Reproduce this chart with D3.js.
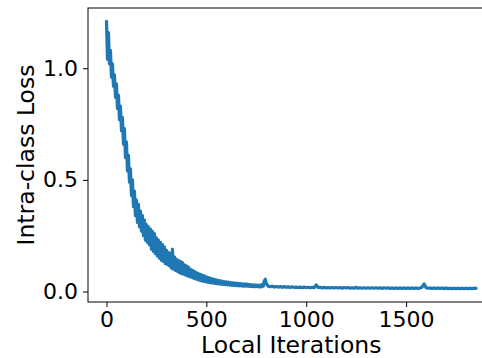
<!DOCTYPE html>
<html>
<head>
<meta charset="utf-8">
<script src="https://cdn.jsdelivr.net/npm/d3@7"></script>
<style>
    html, body { margin: 0; padding: 0; background: #fff; }
    svg { display: block; font-family: 'DejaVu Sans', sans-serif; }
</style>
</head>
<body>
<div id="chart"></div>
<script>
// Loss, one value every 5 iterations from 0 to 800
var earlyStep = 5;
var earlyLoss = [
    1.21, 1.04, 1.16, 1.02, 1.08, 0.96, 1.02, 0.92, 0.97, 0.87,
    0.93, 0.82, 0.88, 0.77, 0.83, 0.72, 0.78, 0.66, 0.73, 0.60,
    0.67, 0.54, 0.61, 0.49, 0.55, 0.43, 0.50, 0.38, 0.45, 0.34,
    0.41, 0.31, 0.39, 0.29, 0.36, 0.27, 0.34, 0.25, 0.32, 0.23,
    0.30, 0.22, 0.29, 0.21, 0.28, 0.19, 0.27, 0.18, 0.26, 0.17,
    0.24, 0.16, 0.23, 0.15, 0.22, 0.14, 0.21, 0.135, 0.20, 0.125,
    0.185, 0.12, 0.175, 0.115, 0.17, 0.105, 0.19, 0.10, 0.155, 0.095,
    0.145, 0.09, 0.14, 0.085, 0.135, 0.08, 0.13, 0.078, 0.12, 0.074,
    0.115, 0.07, 0.11, 0.067, 0.10, 0.064, 0.095, 0.06, 0.09, 0.057,
    0.085, 0.054, 0.08, 0.051, 0.077, 0.048, 0.073, 0.046, 0.07, 0.044,
    0.066, 0.042, 0.063, 0.041, 0.06, 0.039, 0.057, 0.038, 0.055, 0.036,
    0.052, 0.035, 0.05, 0.034, 0.048, 0.033, 0.046, 0.032, 0.044, 0.031,
    0.043, 0.030, 0.042, 0.029, 0.041, 0.028, 0.039, 0.028, 0.038, 0.027,
    0.037, 0.027, 0.036, 0.026, 0.035, 0.025, 0.034, 0.025, 0.033, 0.024,
    0.034, 0.024, 0.032, 0.023, 0.031, 0.023, 0.030, 0.022, 0.030, 0.022,
    0.029, 0.022, 0.029, 0.021, 0.028, 0.021, 0.032, 0.024, 0.047, 0.055,
    0.036
];

// After that, one value every 10 iterations from 810 to 1850
var lateStart = 810,
    lateStep = 10;
var lateLoss = [
    0.024, 0.021, 0.024, 0.020, 0.023, 0.020, 0.022, 0.019, 0.022, 0.019,
    0.021, 0.018, 0.021, 0.018, 0.020, 0.018, 0.020, 0.017, 0.020, 0.017,
    0.019, 0.017, 0.019, 0.017, 0.030, 0.018, 0.019, 0.016, 0.019, 0.016,
    0.018, 0.016, 0.018, 0.016, 0.018, 0.016, 0.018, 0.015, 0.018, 0.016,
    0.018, 0.015, 0.017, 0.015, 0.019, 0.015, 0.017, 0.015, 0.017, 0.015,
    0.017, 0.015, 0.017, 0.015, 0.017, 0.015, 0.017, 0.014, 0.017, 0.015,
    0.017, 0.014, 0.016, 0.014, 0.016, 0.014, 0.016, 0.014, 0.016, 0.014,
    0.016, 0.014, 0.016, 0.014, 0.016, 0.014, 0.016, 0.020, 0.034, 0.017,
    0.015, 0.016, 0.014, 0.016, 0.014, 0.016, 0.014, 0.016, 0.013, 0.016,
    0.013, 0.015, 0.013, 0.015, 0.013, 0.015, 0.013, 0.015, 0.013, 0.015,
    0.013, 0.015, 0.013, 0.015, 0.014
];

var xTicks = [0, 500, 1000, 1500],
    yTicks = [0.0, 0.5, 1.0];

var xLabel = 'Local Iterations',
    yLabel = 'Intra-class Loss';

(function(d3) {
    'use strict';

    var width = 482,
        height = 358;

    // Axes box; the right edge sits past the window, as in the picture
    var margin = {top: 8, left: 88},
        plotWidth = 406.5,
        plotHeight = 294;

    // Join the two runs into one series of points
    var points = earlyLoss.map(function(v, i) {
        return {x: i * earlyStep, y: v};
    }).concat(lateLoss.map(function(v, i) {
        return {x: lateStart + i * lateStep, y: v};
    }));

    // Matplotlib style 5% padding round the data
    var xExtent = d3.extent(points, function(d) { return d.x; }),
        yExtent = d3.extent(points, function(d) { return d.y; }),
        xPad = (xExtent[1] - xExtent[0]) * 0.05,
        yPad = (yExtent[1] - yExtent[0]) * 0.05;

    var x = d3.scaleLinear()
        .domain([xExtent[0] - xPad, xExtent[1] + xPad])
        .range([0, plotWidth]);

    var y = d3.scaleLinear()
        .domain([yExtent[0] - yPad, yExtent[1] + yPad])
        .range([plotHeight, 0]);

    var svg = d3.select('#chart').append('svg')
        .attr('width', width)
        .attr('height', height);

    var chart = svg.append('g')
        .attr('transform', 'translate(' + margin.left + ',' + margin.top + ')');

    chart.append('defs').append('clipPath')
        .attr('id', 'plotAreaClip')
        .append('rect')
        .attr('width', plotWidth)
        .attr('height', plotHeight);

    // The loss curve
    var line = d3.line()
        .x(function(d) { return x(d.x); })
        .y(function(d) { return y(d.y); });

    chart.append('g')
        .attr('clip-path', 'url(#plotAreaClip)')
        .append('path')
        .datum(points)
        .attr('d', line)
        .attr('fill', 'none')
        .attr('stroke', '#1f77b4')
        .attr('stroke-width', 3.2)
        .attr('stroke-linejoin', 'round')
        .attr('stroke-linecap', 'round');

    // Axes
    var xAxis = chart.append('g')
        .attr('transform', 'translate(0,' + plotHeight + ')')
        .call(d3.axisBottom(x)
            .tickValues(xTicks)
            .tickFormat(d3.format('d'))
            .tickSize(5)
            .tickPadding(4)
            .tickSizeOuter(0));

    var yAxis = chart.append('g')
        .call(d3.axisLeft(y)
            .tickValues(yTicks)
            .tickFormat(d3.format('.1f'))
            .tickSize(5)
            .tickPadding(5)
            .tickSizeOuter(0));

    [xAxis, yAxis].forEach(function(axis) {
        axis.select('.domain').remove();
        axis.selectAll('line').attr('stroke', '#000').attr('stroke-width', 1);
        axis.selectAll('text')
            .attr('fill', '#000')
            .style('font-size', '22px')
            .style('font-family', "'DejaVu Sans', sans-serif");
    });

    // Frame round the plot
    chart.append('rect')
        .attr('x', 0)
        .attr('y', 0)
        .attr('width', plotWidth)
        .attr('height', plotHeight)
        .attr('fill', 'none')
        .attr('stroke', '#000')
        .attr('stroke-width', 1);

    // Axis titles
    chart.append('text')
        .attr('x', plotWidth / 2)
        .attr('y', 345)
        .attr('text-anchor', 'middle')
        .style('font-size', '23.5px')
        .text(xLabel);

    svg.append('text')
        .attr('transform', 'translate(34,' + (margin.top + plotHeight / 2) + ') rotate(-90)')
        .attr('text-anchor', 'middle')
        .style('font-size', '23.5px')
        .text(yLabel);
}(d3));
</script>
</body>
</html>
